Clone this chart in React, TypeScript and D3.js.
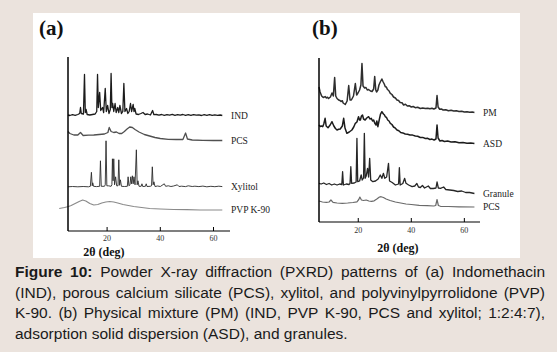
import React, { useEffect, useRef } from 'react';
import * as d3 from 'd3';

type Pt = [number, number];

// panel (a) patterns: [2θ (deg), intensity (a.u.) above the trace baseline]
const indPattern: Pt[] = [
  [5.3, 0.5], [6, 0], [7, 0.8], [8, 0.2], [9, 1], [9.7, 2], [10, 8], [10.3, 2], [11.1, 1.5], [11.5, 41],
  [11.8, 3], [12.1, 6], [12.5, 1], [13.5, 0.5], [14.5, 1], [15.5, 1.5], [16.1, 4], [16.4, 41], [16.7, 8],
  [17.2, 23], [17.6, 5], [18.3, 8], [18.7, 3], [19.3, 27], [19.7, 4], [20.2, 10], [20.7, 2], [21.2, 6],
  [21.5, 42], [21.8, 8], [22.1, 12], [22.5, 4], [23.0, 12], [23.4, 3], [24.0, 8], [24.4, 3], [24.8, 10],
  [25.4, 2], [25.9, 4], [26.3, 32], [26.7, 4], [27.3, 7], [27.8, 2], [28.3, 4], [28.8, 12], [29.2, 4],
  [29.8, 11], [30.1, 4], [30.4, 7], [30.9, 1.5], [31.8, 1], [32.7, 2], [33.5, 3], [34.3, 1], [35.2, 1.5],
  [36.3, 0.5], [37.1, 5], [37.6, 0.8], [38.5, 1], [39.5, 0.3], [40.5, 1], [41.5, 0.2], [42.5, 0.8],
  [43.5, 0.4], [44.5, 1.2], [45.5, 0.2], [46.5, 0.9], [47.5, 0.3], [48.5, 1], [49.5, 0.2], [50.5, 0.8],
  [51.5, 0.1], [52.5, 0.9], [53.5, 0.3], [54.5, 0.7], [55.5, 0], [56.5, 0.8], [57.5, 0.2], [58.5, 0.9],
  [59.5, 0.1], [60.5, 0.6], [61.5, 0.2], [62.5, 0.5], [63.3, 0],
];
const pcsPatternA: Pt[] = [
  [5.3, 9], [6, 7], [7.5, 5.5], [9, 5.5], [10, 8], [11, 5], [13, 5.3], [15, 5.5], [17, 6], [19, 6.5],
  [20.3, 8], [20.8, 13], [21.5, 9], [22.5, 8], [23.5, 8.5], [24.5, 7], [25.5, 7], [26.5, 9], [27.5, 11.5],
  [28.5, 13.5], [29.5, 13], [30.5, 11], [32, 8.5], [34, 6], [36, 4.5], [38, 3], [40, 2], [43, 1.2],
  [46, 1], [48.5, 1], [49.5, 7.5], [50.2, 1.5], [52, 0.5], [56, 0.2], [60, 0], [63.3, 0],
];
const xylitolPattern: Pt[] = [
  [5.3, 0], [7, 0.3], [9, 0], [11, 0.3], [13, 0], [13.7, 0.5], [14.1, 14.5], [14.4, 1], [14.6, 4],
  [14.9, 0.5], [16, 0.2], [17.2, 0.5], [17.5, 26], [17.8, 0.5], [19.0, 0.5], [19.3, 2], [19.6, 46],
  [19.9, 1], [20.5, 1], [21.5, 0.5], [21.8, 2], [22.0, 28], [22.25, 6], [22.5, 28], [22.8, 2], [23.2, 10],
  [23.6, 1], [24.1, 1], [24.4, 27], [24.7, 1.5], [25.0, 7], [25.4, 0.5], [26.5, 0.3], [27.6, 0.5],
  [27.9, 10], [28.2, 1], [28.6, 2], [28.9, 10], [29.2, 3], [29.5, 11], [29.8, 3], [30.1, 10], [30.5, 2],
  [31.0, 37], [31.3, 2], [31.6, 6], [32, 0.5], [32.8, 0.5], [33.1, 3], [33.4, 0.3], [34.4, 0.5],
  [34.7, 3], [35.0, 0.3], [36.2, 0.5], [36.7, 1], [37.0, 20], [37.3, 2], [37.6, 5], [38, 0.3], [39, 0.8],
  [40, 0.3], [41.5, 3], [42, 0.5], [43, 1], [44, 0.3], [45, 0.8], [46.4, 2], [47, 0.3], [48, 0.6],
  [49.5, 0.2], [50.5, 1], [52, 0.3], [53, 0.6], [54.5, 0.2], [56, 0.7], [57.5, 0], [59, 0.5], [60.5, 0.1],
  [62, 0.6], [63.3, 0.2],
];
const pvpPattern: Pt[] = [
  [2.0, 1.5], [4, 2.5], [5.5, 3.5], [6.5, 4.5], [8, 6.5], [9.5, 8.5], [10.8, 10], [12, 9], [13.5, 6.5],
  [15, 5], [16.5, 5.5], [18, 7], [19.5, 8], [21, 8.5], [22.5, 8], [24, 7], [26, 5.5], [28, 4.5],
  [30, 3.5], [33, 2.5], [36, 1.5], [40, 1], [45, 0.5], [50, 0.3], [55, 0], [63.3, 0],
];

// panel (b) patterns
const pmPattern: Pt[] = [
  [5.2, 25.5], [5.6, 20.5], [6.2, 16.5], [6.6, 15.5], [7, 15], [7.5, 16], [8, 14.5], [8.4, 15.3],
  [8.8, 14], [9.5, 15.5], [10.1, 19.5], [10.6, 16.5], [11.1, 35], [11.5, 16.5], [12, 14], [12.6, 12.5],
  [13.1, 12], [13.5, 11], [14, 11.8], [14.3, 9.5], [15.1, 8], [15.8, 11.5], [16.4, 27], [16.9, 12.5],
  [17.4, 12.5], [18.2, 16.5], [18.9, 29], [19.4, 17.5], [19.9, 19.5], [20.5, 22.5], [21.0, 27.5],
  [21.4, 49], [21.8, 26.5], [22.4, 24.5], [22.9, 25], [23.4, 22.5], [23.9, 23], [24.6, 21.5], [25.2, 21],
  [25.8, 23.5], [26.2, 36], [26.6, 22.5], [26.9, 20.5], [27.4, 22.5], [27.8, 27.5], [28.3, 30.5],
  [28.9, 33.5], [29.4, 30.5], [29.8, 28.5], [30.2, 25.8], [30.6, 25.5], [31, 23], [31.5, 22],
  [32.1, 19.2], [32.7, 18], [33.3, 15.5], [34, 14.5], [34.6, 12.5], [35.2, 12], [35.8, 10], [36.5, 9.8],
  [37.1, 7.5], [37.8, 8.2], [38.5, 6.5], [39.2, 6.8], [40, 5.5], [40.7, 6], [41.5, 4.8], [42.4, 5.2],
  [43.4, 4], [44.3, 4.6], [45.3, 4], [46.2, 4.3], [47, 3.7], [47.8, 4.2], [48.5, 3.5], [49.3, 4.5],
  [49.7, 17], [50.1, 5.5], [50.7, 3.2], [51.3, 3.6], [52, 2.5], [53, 2.8], [54, 1.8], [55, 2.2], [56, 1.5],
  [57, 1.7], [58, 1], [59, 1.3], [60, 0.5], [61, 0.8], [62, 0.2], [63, 0.5], [63.8, 0],
];
const asdPattern: Pt[] = [
  [5.2, 18.5], [5.7, 17], [6.2, 17.5], [6.6, 16.8], [7.0, 19.5], [7.5, 25.2], [7.9, 17.5], [8.6, 15.8],
  [9.4, 18.5], [10.1, 21.8], [10.8, 17.5], [11.4, 15], [12.0, 13.5], [12.6, 14.2], [13.2, 14.5],
  [14.0, 17.5], [14.5, 25.2], [15.0, 15.5], [15.7, 10.2], [16.6, 11.5], [17.6, 13.5], [18.3, 16.5],
  [18.9, 20.2], [19.5, 21.5], [20.1, 26.8], [20.5, 23.5], [20.8, 23.5], [21.2, 27.5], [21.6, 28.5],
  [22.0, 24.5], [22.6, 23.5], [23.2, 25.5], [23.9, 26.8], [24.4, 24.5], [24.9, 25.2], [25.4, 22.5],
  [25.8, 23.5], [26.2, 20.5], [26.7, 18.5], [27.0, 22.5], [27.4, 16.8], [27.9, 23.5], [28.4, 29.5],
  [28.9, 31.8], [29.5, 29.5], [29.9, 28.5], [30.2, 26.8], [30.7, 25.8], [31.1, 23.5], [31.6, 22.5],
  [32.1, 20.2], [32.7, 19], [33.3, 16.5], [34, 15.3], [34.6, 13.5], [35.3, 12.8], [36.0, 11],
  [36.8, 10.6], [37.7, 9.5], [38.6, 9.2], [39.5, 8.5], [40.5, 8.4], [41.5, 7.5], [42.4, 7.2], [43.4, 6],
  [44.3, 6.1], [45.3, 5], [46.2, 5.2], [47, 4], [47.8, 4.4], [48.6, 3.5], [49.3, 4.5], [49.7, 18.5],
  [50.1, 5.5], [50.8, 2.5], [51.6, 3], [52.5, 2], [53.7, 2.4], [55, 1.5], [56.5, 1.7], [58, 0.7],
  [59.5, 1], [61, 0.3], [62.4, 0.6], [63.8, 0],
];
const granulePattern: Pt[] = [
  [5.2, 10.2], [6, 9.5], [7, 10.5], [8, 9], [9, 10], [10, 8.5], [11, 9.5], [12, 8.5], [13, 9.5], [13.8, 9],
  [14.1, 21.8], [14.4, 8.5], [15.5, 9.5], [16.5, 9], [16.9, 10], [17.2, 26.8], [17.5, 10.2], [18.5, 10.5],
  [19.2, 11.5], [19.5, 55.2], [19.8, 11.8], [20.5, 12.5], [21.1, 18.5], [21.5, 13.5], [22.0, 15.5],
  [22.3, 60.2], [22.6, 15.2], [23.0, 17.5], [23.5, 25.2], [23.9, 16.5], [24.3, 35.2], [24.7, 13.5],
  [25.5, 11.8], [26.5, 12.5], [27.5, 14.5], [28.3, 18.5], [28.9, 15.2], [29.5, 20.2], [30.0, 15.2],
  [30.7, 16.5], [31.4, 30.2], [31.8, 12.5], [32.8, 11], [34.0, 8.5], [35.2, 9.5], [35.5, 25.8],
  [35.8, 8.5], [36.8, 10], [37.5, 15.2], [38.0, 10.2], [39.0, 8.5], [40.3, 6.8], [41.3, 7.5], [42.1, 10],
  [42.7, 6.5], [43.4, 6], [44.2, 8], [45, 5.5], [46.4, 7.5], [47.2, 5], [48.3, 5], [49.3, 5.5],
  [49.7, 11.5], [50.2, 5.5], [51, 5.2], [52.2, 6.5], [53, 4], [54.5, 3.5], [56, 3], [57.5, 2], [59, 2.5],
  [60.5, 1], [62, 1], [63.8, 0],
];
const pcsPatternB: Pt[] = [
  [5.2, 6], [6.5, 5], [8, 4.7], [9, 5], [9.7, 7], [10.5, 4.7], [12, 4], [14, 3.7], [16, 4], [18, 4.5],
  [19.5, 5.2], [20.2, 7.5], [20.6, 10], [21.2, 7], [22, 6.5], [23, 7], [24, 6], [25, 5.7], [26, 6.2],
  [27, 8], [28, 10], [28.6, 10.3], [29.5, 9.5], [30.5, 8], [32, 6.5], [34, 5], [36, 4], [38, 3],
  [40, 2.5], [43, 1.7], [46, 1.3], [48.5, 1], [49.2, 1.5], [49.7, 7.5], [50.2, 1.5], [51, 0.7], [54, 0.5],
  [58, 0.2], [63.8, 0],
];

const labelsA = ['IND', 'PCS', 'Xylitol', 'PVP K-90'];
const offsetsA = [115.5, 90.5, 44.2, 21];
const labelsB = ['PM', 'ASD', 'Granule', 'PCS'];
const offsetsB = [109.5, 78.5, 28.5, 15];
const xTicks = [20, 40, 60];
const xTitle = '2θ (deg)';

const captionLines = [
  'Figure 10: Powder X-ray diffraction (PXRD) patterns of (a) Indomethacin',
  '(IND), porous calcium silicate (PCS), xylitol, and polyvinylpyrrolidone (PVP)',
  'K-90. (b) Physical mixture (PM) (IND, PVP K-90, PCS and xylitol; 1:2:4:7),',
  'adsorption solid dispersion (ASD), and granules.',
];

const W = 557;
const H = 352;

const panels = [
  {
    tag: '(a)', tagX: 39, x0: 68, x1: 230, yTop: 57, yBottom: 231, domain: [5.3, 66.2],
    series: [indPattern, pcsPatternA, xylitolPattern, pvpPattern], labels: labelsA, offsets: offsetsA,
    colors: ['#1c1c1c', '#505050', '#2a2a2a', '#8a8a8a'], widths: [1.3, 1.3, 0.9, 1.2],
    labelX: 231, tickY: 238.5, titleX: 104, titleY: 252,
  },
  {
    tag: '(b)', tagX: 312, x0: 319, x1: 480, yTop: 58, yBottom: 222, domain: [5.2, 65.9],
    series: [pmPattern, asdPattern, granulePattern, pcsPatternB], labels: labelsB, offsets: offsetsB,
    colors: ['#2e2e2e', '#1c1c1c', '#262626', '#6a6a6a'], widths: [1.5, 1.5, 1.3, 1.2],
    labelX: 483, tickY: 230.5, titleX: 398, titleY: 248,
  },
];

export default function App() {
  const ref = useRef<SVGSVGElement>(null);

  useEffect(() => {
    const svg = d3.select(ref.current);
    svg.selectAll('*').remove();

    svg.append('rect').attr('width', W).attr('height', H).attr('fill', '#ebe3dd');
    svg.append('rect').attr('x', 33).attr('y', 13).attr('width', 487).attr('height', 245).attr('fill', '#ffffff');

    panels.forEach(p => {
      const x = d3.scaleLinear().domain(p.domain).range([p.x0, p.x1]);
      const y = d3.scaleLinear().domain([0, p.yBottom - p.yTop]).range([p.yBottom, p.yTop]);
      const g = svg.append('g');

      p.series.forEach((s, i) => {
        const off = p.offsets[i];
        const line = d3.line<Pt>().x(d => x(d[0])).y(d => y(d[1] + off));
        g.append('path')
          .attr('d', line(s))
          .attr('fill', 'none')
          .attr('stroke', p.colors[i])
          .attr('stroke-width', p.widths[i])
          .attr('stroke-linejoin', 'round');
        g.append('text')
          .attr('x', p.labelX)
          .attr('y', y(off))
          .attr('dy', '0.33em')
          .attr('font-family', 'Liberation Serif')
          .style('font-size', '9.5px')
          .attr('fill', '#222')
          .text(p.labels[i]);
      });

      // axes
      g.append('line').attr('x1', p.x0).attr('x2', p.x0).attr('y1', p.yTop).attr('y2', p.yBottom)
        .attr('stroke', '#000').attr('stroke-width', 1.5);
      g.append('line').attr('x1', p.x0).attr('x2', p.x1).attr('y1', p.yBottom).attr('y2', p.yBottom)
        .attr('stroke', '#000').attr('stroke-width', 1.2);
      xTicks.forEach(t => {
        g.append('line').attr('x1', x(t)).attr('x2', x(t)).attr('y1', p.yBottom).attr('y2', p.yBottom - 4)
          .attr('stroke', '#000').attr('stroke-width', 1);
        g.append('text').attr('x', x(t)).attr('y', p.tickY).attr('dy', '0.35em')
          .attr('text-anchor', 'middle').attr('font-family', 'Liberation Serif')
          .style('font-size', '8px').attr('fill', '#333').text(t);
      });
      g.append('text').attr('x', p.titleX).attr('y', p.titleY).attr('dy', '0.35em')
        .attr('text-anchor', 'middle').attr('font-family', 'Liberation Serif').attr('font-weight', 'bold')
        .style('font-size', '12px').attr('fill', '#111').text(xTitle);
      g.append('text').attr('x', p.tagX).attr('y', 35)
        .attr('font-family', 'Liberation Serif').attr('font-weight', 'bold')
        .style('font-size', '21px').attr('fill', '#111').text(p.tag);
    });

    // caption, justified word by word
    const capX0 = 15;
    const capX1 = 545;
    const baselines = [277, 297.5, 318, 338.5];
    captionLines.forEach((ln, li) => {
      const words = ln.split(' ');
      const nodes = words.map((w, wi) => svg.append('text')
        .attr('y', baselines[li])
        .attr('font-family', 'Liberation Sans')
        .attr('font-weight', li === 0 && wi < 2 ? 'bold' : 'normal')
        .style('font-size', '15.5px')
        .attr('fill', '#1a1a1a')
        .text(w));
      const widths = nodes.map(n => (n.node() as SVGTextElement).getComputedTextLength());
      const total = d3.sum(widths);
      const justify = li < captionLines.length - 1;
      const gap = justify ? (capX1 - capX0 - total) / (words.length - 1) : 15.5 * 0.278;
      let cx = capX0;
      nodes.forEach((n, i) => {
        n.attr('x', cx);
        cx += widths[i] + gap;
      });
    });
  }, []);

  return (
    <div style={{ position: 'absolute', left: 0, top: 0 }}>
      <svg ref={ref} width={W} height={H} style={{ display: 'block' }} />
    </div>
  );
}
